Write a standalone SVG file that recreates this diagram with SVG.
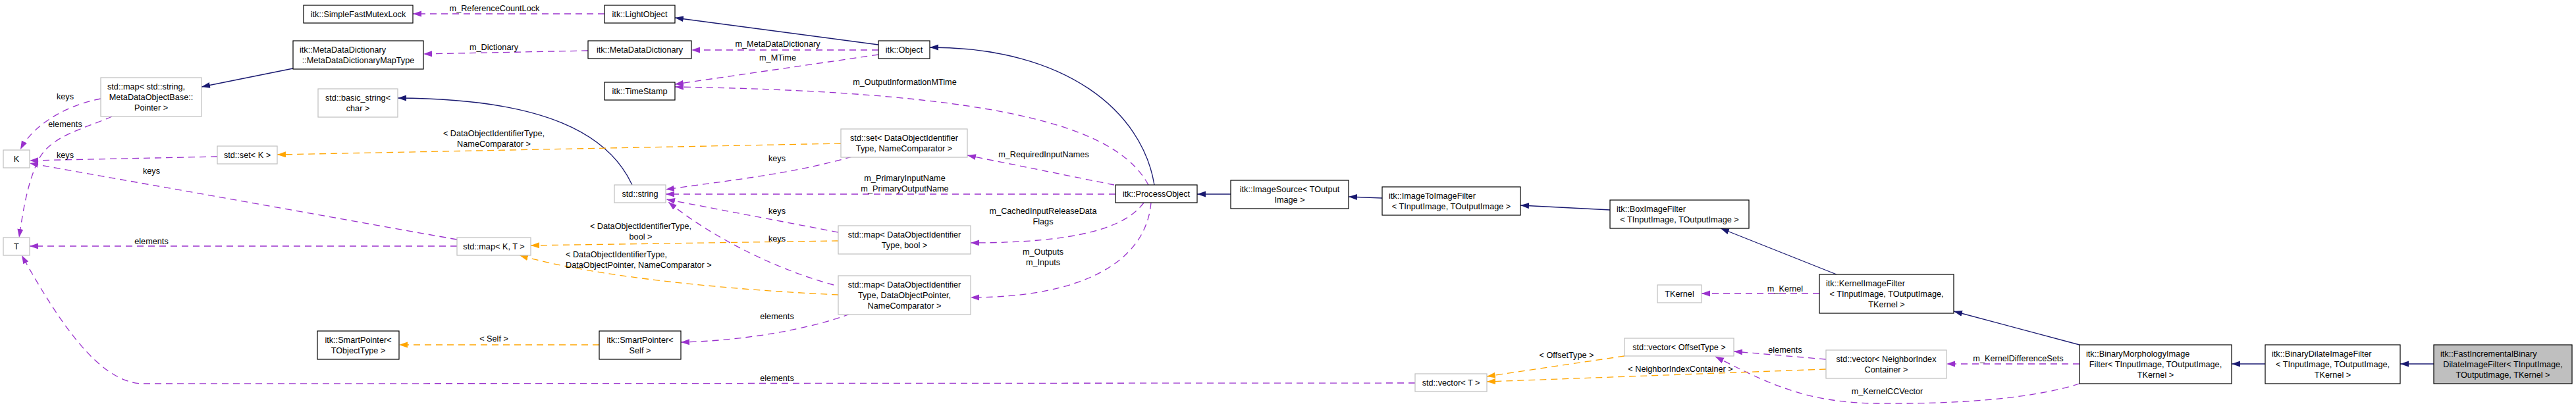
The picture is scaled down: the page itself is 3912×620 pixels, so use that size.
<svg xmlns="http://www.w3.org/2000/svg" width="3912" height="620" viewBox="0 0 3912 620">
<style>
text{font-family:"Liberation Sans",Arial,sans-serif;font-size:12.7px;fill:#000}
.c{text-anchor:middle}
.s{text-anchor:start}
rect{fill:#fff;stroke-width:1.2}
.b rect{stroke:#000}
.g rect{stroke:#bfbfbf}
.hl rect{fill:#bfbfbf;stroke:#000}
.e path{fill:none;stroke-width:1.3}
.inh{stroke:#191970;marker-end:url(#an)}
.use{stroke:#9a32cd;stroke-dasharray:10,7;marker-end:url(#ap)}
.tpl{stroke:#ffa500;stroke-dasharray:10,7;marker-end:url(#ao)}
</style>
<defs>
<marker id="an" markerUnits="userSpaceOnUse" markerWidth="14" markerHeight="10" refX="13" refY="4.5" orient="auto"><path d="M0,0 L13,4.5 L0,9 z" fill="#191970"/></marker>
<marker id="ap" markerUnits="userSpaceOnUse" markerWidth="14" markerHeight="10" refX="13" refY="4.5" orient="auto"><path d="M0,0 L13,4.5 L0,9 z" fill="#9a32cd"/></marker>
<marker id="ao" markerUnits="userSpaceOnUse" markerWidth="14" markerHeight="10" refX="13" refY="4.5" orient="auto"><path d="M0,0 L13,4.5 L0,9 z" fill="#ffa500"/></marker>
</defs>
<rect x="0" y="0" width="3912" height="620" style="fill:#fff;stroke:none"/>

<g id="edges" class="e">
<!-- inheritance -->
<path class="inh" d="M3696,553 L3645,553"/>
<path class="inh" d="M3440,553 L3389,553"/>
<path class="inh" d="M3158,524 L2967,473"/>
<path class="inh" d="M2789,417 L2613,347"/>
<path class="inh" d="M2445,319 L2309,312"/>
<path class="inh" d="M2099,301 L2048,299"/>
<path class="inh" d="M1869,295 L1818,295"/>
<path class="inh" d="M1753,281 C1735,170 1620,72 1412,72"/>
<path class="inh" d="M1334,68 L1025,27"/>
<path class="inh" d="M960,281 C925,205 830,150 604,149"/>
<path class="inh" d="M445,104 L306,132"/>
<!-- usage -->
<path class="use" d="M918,21 L627,21"/>
<path class="use" d="M893,77 L643,82"/>
<path class="use" d="M1334,76 L1050,76"/>
<path class="use" d="M1334,83 L1025,128"/>
<path class="use" d="M1744,281 C1700,200 1550,140 1025,132"/>
<path class="use" d="M1692,281 L1469,236"/>
<path class="use" d="M1694,295 L1011,295"/>
<path class="use" d="M1737,308 C1710,345 1640,369 1474,369"/>
<path class="use" d="M1748,308 C1740,400 1640,452 1474,452"/>
<path class="use" d="M1294,238 C1200,265 1100,275 1011,288"/>
<path class="use" d="M1273,353 L1012,303"/>
<path class="use" d="M1266,433 C1180,410 1080,360 1015,307"/>
<path class="use" d="M1291,477 C1230,500 1130,518 1034,520"/>
<path class="use" d="M2773,546 L2633,534"/>
<path class="use" d="M3158,553 L2956,553"/>
<path class="use" d="M3158,583 C3080,608 2960,614 2850,613 C2740,612 2680,580 2605,542"/>
<path class="use" d="M2763,446 L2584,446"/>
<path class="use" d="M330,238 L45,244"/>
<path class="use" d="M694,364 L45,248"/>
<path class="use" d="M153,150 C100,160 50,190 31,227"/>
<path class="use" d="M170,177 C130,195 80,205 60,240 C42,275 35,320 29,361"/>
<path class="use" d="M694,374 L45,374"/>
<path class="use" d="M2149,582 L215,583 C150,580 90,490 33,388"/>
<!-- template -->
<path class="tpl" d="M1277,218 L421,235"/>
<path class="tpl" d="M1273,366 L806,373"/>
<path class="tpl" d="M1273,448 C1100,440 900,420 789,388"/>
<path class="tpl" d="M910,524 L606,524"/>
<path class="tpl" d="M2467,541 L2258,572"/>
<path class="tpl" d="M2773,561 L2258,580"/>
</g>

<g id="edge-labels">
<text class="c" x="751" y="17">m_ReferenceCountLock</text>
<text class="c" x="750" y="76">m_Dictionary</text>
<text class="c" x="1181" y="71">m_MetaDataDictionary</text>
<text class="c" x="1181" y="92">m_MTime</text>
<text class="c" x="1374" y="129">m_OutputInformationMTime</text>
<text class="c" x="1585" y="239">m_RequiredInputNames</text>
<text class="c" x="1374" y="275">m_PrimaryInputName</text>
<text class="c" x="1374" y="291">m_PrimaryOutputName</text>
<text class="c" x="1584" y="325">m_CachedInputReleaseData</text>
<text class="c" x="1584" y="341">Flags</text>
<text class="c" x="1584" y="387">m_Outputs</text>
<text class="c" x="1584" y="403">m_Inputs</text>
<text class="c" x="1180" y="245">keys</text>
<text class="c" x="1180" y="325">keys</text>
<text class="c" x="1180" y="367">keys</text>
<text class="c" x="1180" y="485">elements</text>
<text class="c" x="1180" y="579">elements</text>
<text class="c" x="750" y="207">&lt; DataObjectIdentifierType,</text>
<text class="c" x="750" y="223">NameComparator &gt;</text>
<text class="c" x="973" y="348">&lt; DataObjectIdentifierType,</text>
<text class="c" x="973" y="364">bool &gt;</text>
<text class="s" x="859" y="391">&lt; DataObjectIdentifierType,</text>
<text class="s" x="859" y="407">DataObjectPointer, NameComparator &gt;</text>
<text class="c" x="750" y="519">&lt; Self &gt;</text>
<text class="c" x="99" y="151">keys</text>
<text class="c" x="99" y="193">elements</text>
<text class="c" x="99" y="240">keys</text>
<text class="c" x="230" y="264">keys</text>
<text class="c" x="230" y="371">elements</text>
<text class="c" x="2711" y="443">m_Kernel</text>
<text class="c" x="2711" y="536">elements</text>
<text class="c" x="2379" y="544">&lt; OffsetType &gt;</text>
<text class="c" x="2552" y="565">&lt; NeighborIndexContainer &gt;</text>
<text class="c" x="3065" y="549">m_KernelDifferenceSets</text>
<text class="c" x="2866" y="599">m_KernelCCVector</text>
</g>

<g id="n_sfml" class="b"><rect x="461" y="8" width="166" height="27"/><text class="c" x="544" y="26">itk::SimpleFastMutexLock</text></g>
<g id="n_maptype" class="b"><rect x="445" y="62" width="198" height="43"/><text class="s" x="455" y="80">itk::MetaDataDictionary</text><text class="c" x="544" y="96">::MetaDataDictionaryMapType</text></g>
<g id="n_map_string" class="g"><rect x="153" y="118" width="153" height="59"/><text class="s" x="163" y="136">std::map&lt; std::string,</text><text class="c" x="229.5" y="152">MetaDataObjectBase::</text><text class="c" x="229.5" y="168">Pointer &gt;</text></g>
<g id="n_basic_string" class="g"><rect x="483" y="135" width="121" height="43"/><text class="c" x="543.5" y="153">std::basic_string&lt;</text><text class="c" x="543.5" y="169">char &gt;</text></g>
<g id="n_K" class="g"><rect x="5" y="228" width="40" height="27"/><text class="c" x="25" y="246">K</text></g>
<g id="n_set_K" class="g"><rect x="330" y="222" width="91" height="27"/><text class="c" x="375.5" y="240">std::set&lt; K &gt;</text></g>
<g id="n_T" class="g"><rect x="5" y="361" width="40" height="27"/><text class="c" x="25" y="379">T</text></g>
<g id="n_sp_tobj" class="b"><rect x="482" y="503" width="124" height="43"/><text class="c" x="544" y="521">itk::SmartPointer&lt;</text><text class="c" x="544" y="537">TObjectType &gt;</text></g>
<g id="n_lightobject" class="b"><rect x="918" y="8" width="107" height="27"/><text class="c" x="971.5" y="26">itk::LightObject</text></g>
<g id="n_mdd" class="b"><rect x="893" y="62" width="157" height="27"/><text class="c" x="971.5" y="80">itk::MetaDataDictionary</text></g>
<g id="n_timestamp" class="b"><rect x="918" y="125" width="107" height="27"/><text class="c" x="971.5" y="143">itk::TimeStamp</text></g>
<g id="n_object" class="b"><rect x="1334" y="62" width="78" height="27"/><text class="c" x="1373" y="80">itk::Object</text></g>
<g id="n_set_doit" class="g"><rect x="1277" y="196" width="192" height="43"/><text class="c" x="1373" y="214">std::set&lt; DataObjectIdentifier</text><text class="c" x="1373" y="230">Type, NameComparator &gt;</text></g>
<g id="n_string" class="g"><rect x="933" y="281" width="78" height="27"/><text class="c" x="972" y="299">std::string</text></g>
<g id="n_map_KT" class="g"><rect x="694" y="361" width="112" height="27"/><text class="c" x="750" y="379">std::map&lt; K, T &gt;</text></g>
<g id="n_map_bool" class="g"><rect x="1273" y="343" width="201" height="43"/><text class="c" x="1373.5" y="361">std::map&lt; DataObjectIdentifier</text><text class="c" x="1373.5" y="377">Type, bool &gt;</text></g>
<g id="n_map_nc" class="g"><rect x="1273" y="419" width="201" height="59"/><text class="c" x="1373.5" y="437">std::map&lt; DataObjectIdentifier</text><text class="c" x="1373.5" y="453">Type, DataObjectPointer,</text><text class="c" x="1373.5" y="469">NameComparator &gt;</text></g>
<g id="n_sp_self" class="b"><rect x="910" y="503" width="124" height="43"/><text class="c" x="972" y="521">itk::SmartPointer&lt;</text><text class="c" x="972" y="537">Self &gt;</text></g>
<g id="n_processobject" class="b"><rect x="1694" y="281" width="124" height="27"/><text class="c" x="1756" y="299">itk::ProcessObject</text></g>
<g id="n_imagesource" class="b"><rect x="1869" y="274" width="179" height="43"/><text class="c" x="1958.5" y="292">itk::ImageSource&lt; TOutput</text><text class="c" x="1958.5" y="308">Image &gt;</text></g>
<g id="n_im2im" class="b"><rect x="2099" y="284" width="210" height="43"/><text class="s" x="2109" y="302">itk::ImageToImageFilter</text><text class="c" x="2204" y="318">&lt; TInputImage, TOutputImage &gt;</text></g>
<g id="n_box" class="b"><rect x="2445" y="304" width="211" height="43"/><text class="s" x="2455" y="322">itk::BoxImageFilter</text><text class="c" x="2550.5" y="338">&lt; TInputImage, TOutputImage &gt;</text></g>
<g id="n_kernelfilter" class="b"><rect x="2763" y="417" width="204" height="59"/><text class="s" x="2773" y="435">itk::KernelImageFilter</text><text class="c" x="2865" y="451">&lt; TInputImage, TOutputImage,</text><text class="c" x="2865" y="467">TKernel &gt;</text></g>
<g id="n_tkernel" class="g"><rect x="2517" y="433" width="67" height="27"/><text class="c" x="2550.5" y="451">TKernel</text></g>
<g id="n_vec_offset" class="g"><rect x="2467" y="514" width="166" height="27"/><text class="c" x="2550" y="532">std::vector&lt; OffsetType &gt;</text></g>
<g id="n_vec_nic" class="g"><rect x="2773" y="532" width="183" height="43"/><text class="c" x="2864.5" y="550">std::vector&lt; NeighborIndex</text><text class="c" x="2864.5" y="566">Container &gt;</text></g>
<g id="n_vec_T" class="g"><rect x="2149" y="568" width="109" height="27"/><text class="c" x="2203.5" y="586">std::vector&lt; T &gt;</text></g>
<g id="n_binmorph" class="b"><rect x="3158" y="524" width="231" height="59"/><text class="s" x="3168" y="542">itk::BinaryMorphologyImage</text><text class="c" x="3273.5" y="558">Filter&lt; TInputImage, TOutputImage,</text><text class="c" x="3273.5" y="574">TKernel &gt;</text></g>
<g id="n_bindilate" class="b"><rect x="3440" y="524" width="205" height="59"/><text class="s" x="3450" y="542">itk::BinaryDilateImageFilter</text><text class="c" x="3542.5" y="558">&lt; TInputImage, TOutputImage,</text><text class="c" x="3542.5" y="574">TKernel &gt;</text></g>
<g id="n_fastinc" class="hl"><rect x="3696" y="524" width="210" height="59"/><text class="s" x="3706" y="542">itk::FastIncrementalBinary</text><text class="c" x="3801" y="558">DilateImageFilter&lt; TInputImage,</text><text class="c" x="3801" y="574">TOutputImage, TKernel &gt;</text></g>
</svg>
